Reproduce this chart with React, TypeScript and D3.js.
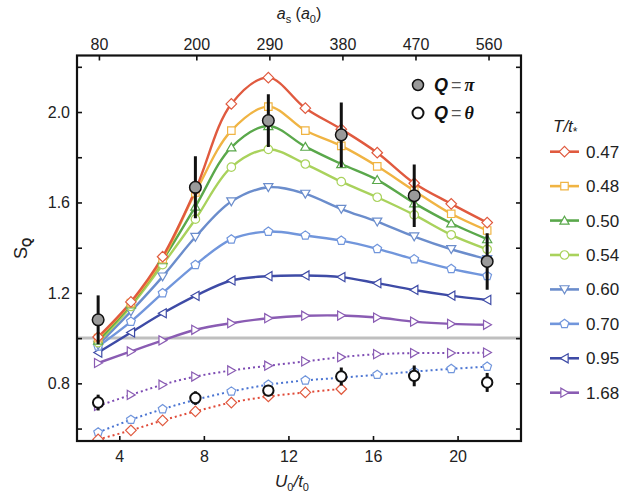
import React, { useEffect, useRef } from "react";
import * as d3 from "d3";

// U0/t0 positions of the measured points
const U = [3.0, 4.55, 6.05, 7.6, 9.3, 11.05, 12.8, 14.5, 16.2, 17.95, 19.7, 21.4];

// Q = pi, theory curves for each T/t*
const s047 = [1.005, 1.16, 1.36, 1.655, 2.036, 2.152, 2.017, 1.924, 1.82, 1.685, 1.594, 1.511];
const s048 = [1.0, 1.155, 1.35, 1.644, 1.918, 2.024, 1.918, 1.85, 1.76, 1.652, 1.55, 1.476];
const s050 = [0.99, 1.15, 1.345, 1.582, 1.844, 1.938, 1.847, 1.77, 1.7, 1.597, 1.508, 1.438];
const s054 = [0.98, 1.14, 1.325, 1.526, 1.756, 1.835, 1.77, 1.692, 1.623, 1.545, 1.457, 1.393];
const s060 = [0.97, 1.118, 1.272, 1.447, 1.604, 1.667, 1.638, 1.571, 1.515, 1.449, 1.393, 1.349];
const s070 = [0.963, 1.073, 1.199, 1.324, 1.437, 1.471, 1.454, 1.431, 1.395, 1.349, 1.306, 1.275];
const s095 = [0.936, 1.025, 1.11, 1.187, 1.255, 1.274, 1.277, 1.27, 1.243, 1.213, 1.188, 1.169];
const s168 = [0.89, 0.941, 0.99, 1.037, 1.066, 1.088, 1.099, 1.1, 1.091, 1.073, 1.063, 1.059];

// Q = 0 curves (dotted)
const z168 = [0.7, 0.749, 0.794, 0.83, 0.857, 0.878, 0.897, 0.916, 0.929, 0.934, 0.934, 0.936];
const z070 = [0.583, 0.639, 0.686, 0.727, 0.764, 0.794, 0.813, 0.825, 0.838, 0.852, 0.864, 0.874];
const z047 = [0.552, 0.592, 0.636, 0.676, 0.715, 0.742, 0.76, 0.775];

// experiment
const expU = [3.0, 7.6, 11.05, 14.5, 17.95, 21.4];
const piVal = [1.081, 1.667, 1.962, 1.899, 1.63, 1.339];
const piErr = [0.108, 0.137, 0.117, 0.143, 0.138, 0.125];
const zeroVal = [0.715, 0.735, 0.768, 0.83, 0.833, 0.804];
const zeroErr = [0.035, 0.03, 0.025, 0.04, 0.046, 0.042];

const temps = ["0.47", "0.48", "0.50", "0.54", "0.60", "0.70", "0.95", "1.68"];
const colors = ["#e05a3f", "#f0b443", "#5aa84b", "#a9d25c", "#6b8dcc", "#7196dc", "#3e4ba6", "#8a5cb3"];
const shapes = ["diamond", "square", "up", "circle", "down", "pentagon", "left", "right"];
const solid = [s047, s048, s050, s054, s060, s070, s095, s168];

const aTicks = [80, 200, 290, 380, 470, 560];
const uTicks = [4, 8, 12, 16, 20];
const sTicks = [0.6, 0.8, 1.0, 1.2, 1.4, 1.6, 1.8, 2.0, 2.2];
const sLabels = [0.8, 1.2, 1.6, 2.0];

const FONT = "'Liberation Sans', Arial, sans-serif";

function marker(shape: string, r: number): string {
  const poly = (n: number, rot: number, rr: number) =>
    d3.range(n).map((i) => {
      const a = rot + (i * 2 * Math.PI) / n;
      return [rr * Math.cos(a), rr * Math.sin(a)];
    });
  const path = (pts: number[][]) => "M" + pts.map((p) => p.join(",")).join("L") + "Z";
  switch (shape) {
    case "diamond":
      return path(poly(4, 0, r * 1.15));
    case "square":
      return path(poly(4, Math.PI / 4, r * 1.15));
    case "up":
      return path(poly(3, -Math.PI / 2, r * 1.15).map(([x, y]) => [x, y + 1]));
    case "down":
      return path(poly(3, Math.PI / 2, r * 1.15).map(([x, y]) => [x, y - 1]));
    case "left":
      return path(poly(3, Math.PI, r * 1.15).map(([x, y]) => [x + 1, y]));
    case "right":
      return path(poly(3, 0, r * 1.15).map(([x, y]) => [x - 1, y]));
    case "pentagon":
      return path(poly(5, -Math.PI / 2, r));
    default:
      return d3.symbol(d3.symbolCircle, Math.PI * r * r * 0.85)() as string;
  }
}

export default function App() {
  const ref = useRef<SVGSVGElement | null>(null);

  useEffect(() => {
    const svg = d3.select(ref.current);
    svg.selectAll("*").remove();

    const left = 77, right = 521, top = 55.5, bottom = 441;
    const x = d3.scaleLinear().domain([2, 23]).range([left, right]);
    const xTop = d3.scaleLinear().domain([53, 600]).range([left, right]);
    const y = d3.scaleLinear().domain([0.545, 2.25]).range([bottom, top]);

    svg.append("defs").append("clipPath").attr("id", "plot")
      .append("rect").attr("x", left).attr("y", top).attr("width", right - left).attr("height", bottom - top);

    const plot = svg.append("g").attr("clip-path", "url(#plot)");

    plot.append("line").attr("x1", left).attr("x2", right).attr("y1", y(1)).attr("y2", y(1))
      .attr("stroke", "#bfbfbf").attr("stroke-width", 3);

    const line = d3.line<number>().x((_, i) => x(U[i])).y((d) => y(d)).curve(d3.curveCatmullRom.alpha(0.5));

    // solid curves, drawn bottom first so red ends on top
    for (let k = solid.length - 1; k >= 0; k--) {
      plot.append("path").datum(solid[k]).attr("fill", "none").attr("stroke", colors[k])
        .attr("stroke-width", 2.4).attr("d", line);
    }

    const dotted: [number[], number][] = [[z168, 7], [z070, 5], [z047, 0]];
    const dotColors: Record<number, string> = { 7: "#7d4bb3", 5: "#4a74d2", 0: "#e04a38" };
    dotted.forEach(([vals, k]) => {
      plot.append("path").datum(vals).attr("fill", "none").attr("stroke", dotColors[k])
        .attr("stroke-width", 2).attr("stroke-dasharray", "2,3").attr("d", line);
    });

    const drawMarkers = (vals: number[], k: number) => {
      plot.append("g").selectAll("path").data(vals).join("path")
        .attr("transform", (d, i) => `translate(${x(U[i])},${y(d)})`)
        .attr("d", marker(shapes[k], 4.6))
        .attr("fill", "white").attr("stroke", colors[k]).attr("stroke-width", 1.2);
    };
    for (let k = solid.length - 1; k >= 0; k--) drawMarkers(solid[k], k);
    dotted.forEach(([vals, k]) => drawMarkers(vals, k));

    // Q = 0 experiment
    const z = plot.append("g");
    z.selectAll("line").data(zeroVal).join("line")
      .attr("x1", (_, i) => x(expU[i])).attr("x2", (_, i) => x(expU[i]))
      .attr("y1", (d, i) => y(d - zeroErr[i])).attr("y2", (d, i) => y(d + zeroErr[i]))
      .attr("stroke", "#111").attr("stroke-width", 3);
    z.selectAll("circle").data(zeroVal).join("circle")
      .attr("cx", (_, i) => x(expU[i])).attr("cy", (d) => y(d)).attr("r", 5.2)
      .attr("fill", "white").attr("stroke", "#111").attr("stroke-width", 2);

    // Q = pi experiment
    const p = plot.append("g");
    p.selectAll("line").data(piVal).join("line")
      .attr("x1", (_, i) => x(expU[i])).attr("x2", (_, i) => x(expU[i]))
      .attr("y1", (d, i) => y(d - piErr[i])).attr("y2", (d, i) => y(d + piErr[i]))
      .attr("stroke", "#111").attr("stroke-width", 3);
    p.selectAll("circle").data(piVal).join("circle")
      .attr("cx", (_, i) => x(expU[i])).attr("cy", (d) => y(d)).attr("r", 5.8)
      .attr("fill", "#9a9a9a").attr("stroke", "#111").attr("stroke-width", 1.5);

    // axes with inward ticks
    const styleAxis = (g: d3.Selection<SVGGElement, unknown, null, undefined>) => {
      g.select(".domain").remove();
      g.selectAll(".tick line").attr("stroke", "#111").attr("stroke-width", 1.6);
      g.selectAll("text").attr("font-family", FONT).attr("font-size", 16).attr("fill", "#222");
    };
    svg.append("g").attr("transform", `translate(0,${bottom})`)
      .call(d3.axisBottom(x).tickValues(uTicks).tickSize(-5).tickPadding(10).tickFormat(d3.format("d")))
      .call(styleAxis);
    svg.append("g").attr("transform", `translate(0,${top})`)
      .call(d3.axisTop(xTop).tickValues(aTicks).tickSize(-5).tickPadding(6).tickFormat(d3.format("d")))
      .call(styleAxis);
    svg.append("g").attr("transform", `translate(${left},0)`)
      .call(d3.axisLeft(y).tickValues(sTicks).tickSize(-5).tickPadding(7)
        .tickFormat((d) => (sLabels.some((v) => Math.abs(v - +d) < 1e-6) ? d3.format(".1f")(+d) : "")))
      .call(styleAxis);
    svg.append("g").attr("transform", `translate(${right},0)`)
      .call(d3.axisRight(y).tickValues(sTicks).tickSize(-5).tickFormat(() => ""))
      .call(styleAxis);

    svg.append("rect").attr("x", left).attr("y", top).attr("width", right - left).attr("height", bottom - top)
      .attr("fill", "none").attr("stroke", "#111").attr("stroke-width", 2.2);

    // axis titles
    const topT = svg.append("text").attr("x", (left + right) / 2).attr("y", 19).attr("text-anchor", "middle")
      .attr("font-family", FONT).attr("font-size", 16).attr("fill", "#222");
    topT.append("tspan").attr("font-style", "italic").text("a");
    topT.append("tspan").attr("font-size", 11).attr("dy", 4).text("s");
    topT.append("tspan").attr("dy", -4).text(" (");
    topT.append("tspan").attr("font-style", "italic").text("a");
    topT.append("tspan").attr("font-size", 11).attr("dy", 4).text("0");
    topT.append("tspan").attr("dy", -4).text(")");

    const botT = svg.append("text").attr("x", 292).attr("y", 487).attr("text-anchor", "middle")
      .attr("font-family", FONT).attr("font-size", 17).attr("fill", "#222");
    botT.append("tspan").attr("font-style", "italic").text("U");
    botT.append("tspan").attr("font-size", 11).attr("dy", 4).text("0");
    botT.append("tspan").attr("dy", -4).attr("font-style", "italic").text("/t");
    botT.append("tspan").attr("font-size", 11).attr("dy", 4).text("0");

    const leftT = svg.append("text").attr("transform", `translate(27,${(top + bottom) / 2}) rotate(-90)`)
      .attr("text-anchor", "middle").attr("font-family", FONT).attr("font-size", 18).attr("fill", "#222");
    leftT.append("tspan").text("S");
    leftT.append("tspan").attr("font-size", 12).attr("font-weight", "bold").attr("dy", 4).text("Q");

    // Q legend
    const ql = svg.append("g");
    const qItems = [{ fill: "#9a9a9a", sym: "π", sw: 1.5 }, { fill: "white", sym: "θ", sw: 2 }];
    const qy = d3.scaleLinear().domain([0, 1]).range([85, 113]);
    qItems.forEach((it, i) => {
      ql.append("circle").attr("cx", 418).attr("cy", qy(i)).attr("r", 5.5)
        .attr("fill", it.fill).attr("stroke", "#111").attr("stroke-width", it.sw);
      const t = ql.append("text").attr("x", 434).attr("y", qy(i) + 6).attr("font-size", 18).attr("fill", "#111");
      t.append("tspan").attr("font-family", FONT).attr("font-weight", "bold").attr("font-style", "italic").text("Q");
      t.append("tspan").attr("font-family", FONT).attr("fill", "#555").attr("dx", 3).text("=");
      t.append("tspan").attr("font-family", "'Liberation Serif', serif").attr("font-weight", "bold")
        .attr("font-style", "italic").attr("dx", 3).text(it.sym);
    });

    // temperature legend
    const lg = svg.append("g");
    const ly = d3.scaleLinear().domain([0, temps.length - 1]).range([151.7, 392.7]);
    const lt = lg.append("text").attr("x", 553).attr("y", 132).attr("font-family", FONT)
      .attr("font-size", 17).attr("font-style", "italic").attr("fill", "#222");
    lt.append("tspan").text("T/t");
    lt.append("tspan").attr("font-size", 12).attr("dy", 4).attr("font-style", "normal").text("*");
    temps.forEach((t, i) => {
      const g = lg.append("g").attr("transform", `translate(0,${ly(i)})`);
      g.append("line").attr("x1", 550).attr("x2", 579).attr("stroke", colors[i]).attr("stroke-width", 2.6);
      g.append("path").attr("transform", "translate(564.5,0)").attr("d", marker(shapes[i], 4.6))
        .attr("fill", "white").attr("stroke", colors[i]).attr("stroke-width", 1.2);
      g.append("text").attr("x", 586).attr("y", 6).attr("font-family", FONT).attr("font-size", 17)
        .attr("fill", "#222").text(t);
    });
  }, []);

  return (
    <svg ref={ref} width={623} height={495}
      style={{ position: "absolute", left: 0, top: 0, background: "white" }} />
  );
}
